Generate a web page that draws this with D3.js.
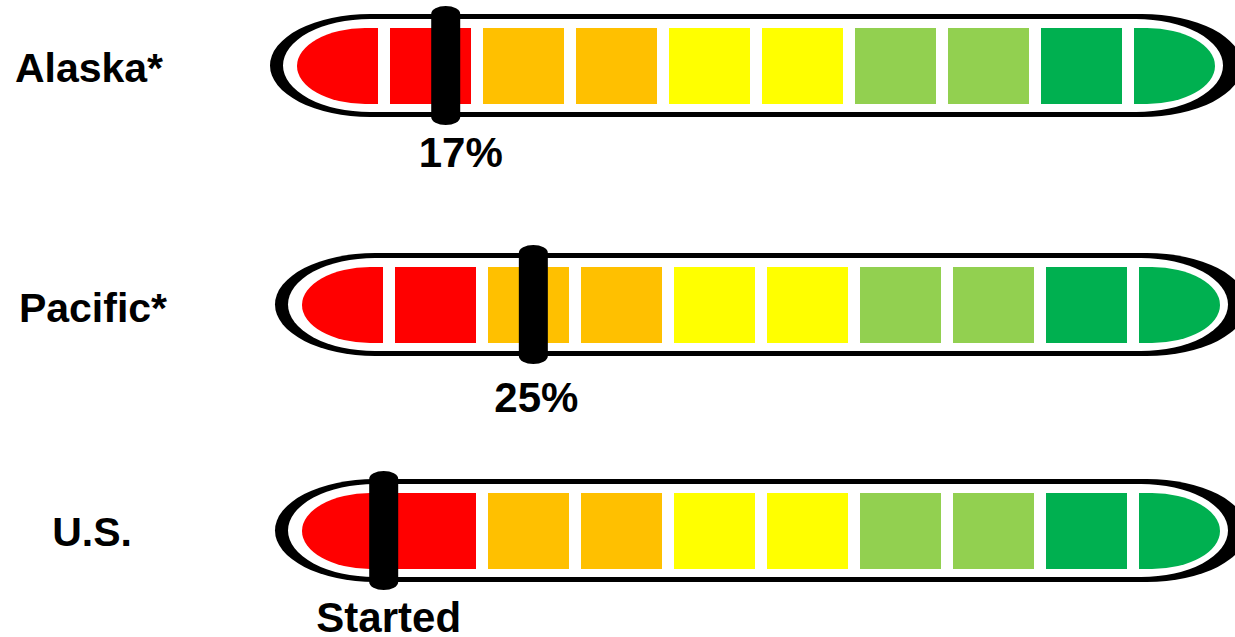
<!DOCTYPE html>
<html>
<head>
<meta charset="utf-8">
<script src="https://d3js.org/d3.v7.min.js"></script>
<style>
    body { margin: 0; background: #fff; }
    text { font-family: "Liberation Sans", Arial, sans-serif; font-weight: bold; fill: #000; }
</style>
</head>
<body>
<svg id="chart" width="1235" height="637"></svg>
<script>
    // data
    var regions = ["Alaska*", "Pacific*", "U.S."];
    var markerPct = [16.2, 25.2, 8.9];
    var markerLabels = ["17%", "25%", "Started"];
    var segments = [0, 1, 2, 3, 4, 5, 6, 7, 8, 9];
    var segmentColors = ["#FF0000", "#FF0000", "#FFC000", "#FFC000", "#FFFF00",
                         "#FFFF00", "#92D050", "#92D050", "#00B050", "#00B050"];

    // layout for each row
    var segStart = [297, 302, 302];
    var segTop = [28, 267, 493];
    var regionX = [89, 93, 92];
    var regionBaseline = [82, 322, 546];
    var labelDx = [15, 3, 5];
    var labelBaseline = [167, 412, 632];
    var segWidth = 918;
    var segHeight = 76;

    var svg = d3.select("#chart");

    // capsule with elliptical ends
    function capsule(x0, x1, y0, y1, rx) {
        var ry = (y1 - y0) / 2;
        return "M" + (x0 + rx) + "," + y0 +
            " L" + (x1 - rx) + "," + y0 +
            " A" + rx + "," + ry + " 0 0 1 " + (x1 - rx) + "," + y1 +
            " L" + (x0 + rx) + "," + y1 +
            " A" + rx + "," + ry + " 0 0 1 " + (x0 + rx) + "," + y0 + " Z";
    }

    function drawRow(r) {
        let x = d3.scaleBand()
            .domain(segments)
            .range([segStart[r], segStart[r] + segWidth])
            .paddingInner(12 / 93);
        let pos = d3.scaleLinear()
            .domain([0, 100])
            .range([segStart[r], segStart[r] + segWidth]);

        let y0 = segTop[r];
        let y1 = y0 + segHeight;
        let left = segStart[r];
        let right = segStart[r] + segWidth;
        let g = svg.append("g");

        g.append("path")
            .attr("d", capsule(left - 27, right + 27, y0 - 14, y1 + 13, 100))
            .attr("fill", "black");
        g.append("path")
            .attr("d", capsule(left - 14, right + 8, y0 - 9, y1 + 8, 87))
            .attr("fill", "white");

        let bw = x.bandwidth();
        let erx = 68;
        let ery = segHeight / 2;
        g.selectAll(".seg")
            .data(segments)
            .enter()
            .append("path")
            .attr("fill", function (d) { return segmentColors[d]; })
            .attr("d", function (d) {
                let sx = x(d);
                if (d == 0) {
                    return "M" + (sx + bw) + "," + y0 +
                        " L" + (sx + erx) + "," + y0 +
                        " A" + erx + "," + ery + " 0 0 0 " + (sx + erx) + "," + y1 +
                        " L" + (sx + bw) + "," + y1 + " Z";
                }
                if (d == segments.length - 1) {
                    return "M" + sx + "," + y0 +
                        " L" + (sx + bw - erx) + "," + y0 +
                        " A" + erx + "," + ery + " 0 0 1 " + (sx + bw - erx) + "," + y1 +
                        " L" + sx + "," + y1 + " Z";
                }
                return "M" + sx + "," + y0 + " h" + bw + " v" + segHeight + " h" + (-bw) + " Z";
            });

        let mx = pos(markerPct[r]);
        g.append("rect")
            .attr("x", mx - 14.5)
            .attr("y", y0 - 22)
            .attr("width", 29)
            .attr("height", segHeight + 43)
            .attr("rx", 14.5)
            .attr("ry", 8)
            .attr("fill", "black");

        g.append("text")
            .attr("x", mx + labelDx[r])
            .attr("y", labelBaseline[r])
            .attr("text-anchor", "middle")
            .attr("font-size", 42)
            .text(markerLabels[r]);

        svg.append("text")
            .attr("x", regionX[r])
            .attr("y", regionBaseline[r])
            .attr("text-anchor", "middle")
            .attr("font-size", 41)
            .text(regions[r]);
    }

    for (let r = 0; r < regions.length; r++) {
        drawRow(r);
    }
</script>
</body>
</html>
